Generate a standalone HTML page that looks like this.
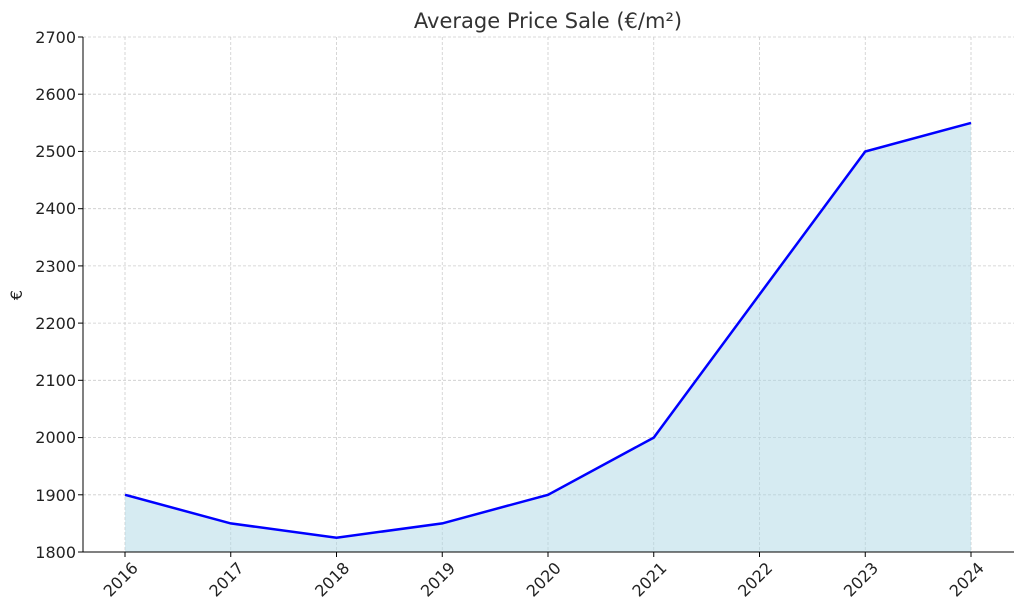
<!DOCTYPE html>
<html><head><meta charset="utf-8"><style>body{margin:0;background:#fff}</style></head><body>
<svg width="1024" height="611" xmlns="http://www.w3.org/2000/svg" font-family="'DejaVu Sans', 'Liberation Sans', sans-serif">
<rect width="1024" height="611" fill="#fff"/>
<text x="548" y="28" font-size="21" text-anchor="middle" fill="#333">Average Price Sale (€/m²)</text>
<g stroke="#ccc" stroke-width="0.8" stroke-dasharray="3,2">
<line x1="83" x2="1014" y1="37" y2="37"/><line x1="83" x2="1014" y1="94.2" y2="94.2"/><line x1="83" x2="1014" y1="151.4" y2="151.4"/><line x1="83" x2="1014" y1="208.7" y2="208.7"/><line x1="83" x2="1014" y1="265.9" y2="265.9"/><line x1="83" x2="1014" y1="323.1" y2="323.1"/><line x1="83" x2="1014" y1="380.3" y2="380.3"/><line x1="83" x2="1014" y1="437.6" y2="437.6"/><line x1="83" x2="1014" y1="494.8" y2="494.8"/>
<line y1="37" y2="552" x1="125" x2="125"/><line y1="37" y2="552" x1="230.75" x2="230.75"/><line y1="37" y2="552" x1="336.5" x2="336.5"/><line y1="37" y2="552" x1="442.25" x2="442.25"/><line y1="37" y2="552" x1="548" x2="548"/><line y1="37" y2="552" x1="653.75" x2="653.75"/><line y1="37" y2="552" x1="759.5" x2="759.5"/><line y1="37" y2="552" x1="865.25" x2="865.25"/><line y1="37" y2="552" x1="971" x2="971"/>
</g>
<polygon fill="#add8e6" fill-opacity="0.5" points="125,552 125,494.8 230.75,523.4 336.5,537.7 442.25,523.4 548,494.8 653.75,437.6 759.5,294.5 865.25,151.5 971,122.9 971,552"/>
<polyline fill="none" stroke="#0000ff" stroke-width="2.5" points="125,494.8 230.75,523.4 336.5,537.7 442.25,523.4 548,494.8 653.75,437.6 759.5,294.5 865.25,151.5 971,122.9"/>
<g stroke="#000" stroke-width="1"><line x1="83" x2="83" y1="37" y2="552"/><line x1="83" x2="1014" y1="552" y2="552"/></g>
<g font-size="16" fill="#222" text-anchor="end">
<text x="76" y="43">2700</text><text x="76" y="100">2600</text><text x="76" y="157">2500</text><text x="76" y="214">2400</text><text x="76" y="272">2300</text><text x="76" y="329">2200</text><text x="76" y="386">2100</text><text x="76" y="443">2000</text><text x="76" y="501">1900</text><text x="76" y="558">1800</text>
</g>
<g stroke="#000"><line x1="78" x2="83" y1="37" y2="37"/><line x1="78" x2="83" y1="94.2" y2="94.2"/><line x1="78" x2="83" y1="151.4" y2="151.4"/><line x1="78" x2="83" y1="208.7" y2="208.7"/><line x1="78" x2="83" y1="265.9" y2="265.9"/><line x1="78" x2="83" y1="323.1" y2="323.1"/><line x1="78" x2="83" y1="380.3" y2="380.3"/><line x1="78" x2="83" y1="437.6" y2="437.6"/><line x1="78" x2="83" y1="494.8" y2="494.8"/><line x1="78" x2="83" y1="552" y2="552"/>
<line x1="125" x2="125" y1="552" y2="557"/><line x1="230.75" x2="230.75" y1="552" y2="557"/><line x1="336.5" x2="336.5" y1="552" y2="557"/><line x1="442.25" x2="442.25" y1="552" y2="557"/><line x1="548" x2="548" y1="552" y2="557"/><line x1="653.75" x2="653.75" y1="552" y2="557"/><line x1="759.5" x2="759.5" y1="552" y2="557"/><line x1="865.25" x2="865.25" y1="552" y2="557"/><line x1="971" x2="971" y1="552" y2="557"/></g>
<text x="22" y="295" font-size="16" fill="#222" text-anchor="middle" transform="rotate(-90 22 295)">€</text>
<g font-size="16" fill="#222" text-anchor="end">
<text transform="translate(139,569) rotate(-45)">2016</text>
<text transform="translate(244.75,569) rotate(-45)">2017</text>
<text transform="translate(350.5,569) rotate(-45)">2018</text>
<text transform="translate(456.25,569) rotate(-45)">2019</text>
<text transform="translate(562,569) rotate(-45)">2020</text>
<text transform="translate(667.75,569) rotate(-45)">2021</text>
<text transform="translate(773.5,569) rotate(-45)">2022</text>
<text transform="translate(879.25,569) rotate(-45)">2023</text>
<text transform="translate(985,569) rotate(-45)">2024</text>
</g>
</svg>
</body></html>
